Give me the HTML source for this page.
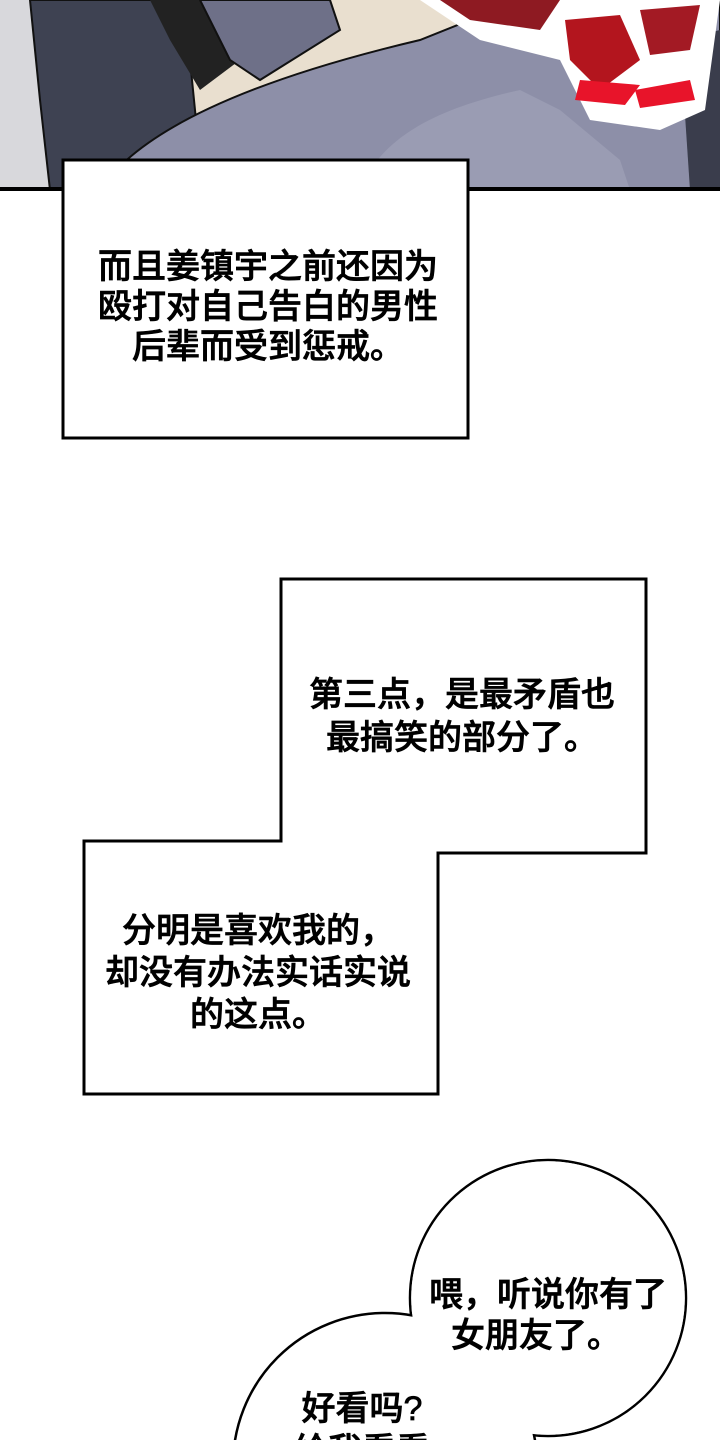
<!DOCTYPE html>
<html><head><meta charset="utf-8"><style>
html,body{margin:0;padding:0;background:#fff;width:720px;height:1440px;overflow:hidden;}
svg{display:block;}
text{font-family:"Liberation Sans","Noto Sans CJK SC",sans-serif;font-size:34px;font-weight:500;fill:#000;stroke:#000;stroke-width:0.7px;}
</style></head><body>
<svg width="720" height="1440" viewBox="0 0 720 1440" xmlns="http://www.w3.org/2000/svg">
<!-- top panel -->
<rect x="0" y="0" width="720" height="190" fill="#e9dfcf"/>
<rect x="0" y="0" width="60" height="190" fill="#d8d8dc"/>
<path d="M30 0 L180 0 L190 60 L200 160 L140 190 L50 190 L40 100 Z" fill="#3e4252" stroke="#111" stroke-width="2"/>
<path d="M150 0 L260 0 L240 60 L200 90 L170 40 Z" fill="#222"/>
<path d="M200 0 L330 0 L340 30 L260 80 L230 60 Z" fill="#6e7088" stroke="#111" stroke-width="2"/>
<path d="M100 190 C140 130 250 80 420 40 L520 0 L720 0 L720 190 Z" fill="#8d8fa8" stroke="#111" stroke-width="2"/>
<path d="M360 190 C380 140 430 110 520 90 L560 110 L620 160 L630 190 Z" fill="#9a9cb3"/>
<path d="M680 40 L720 30 L720 190 L690 190 Z" fill="#3a3d4c"/>
<path d="M420 0 L720 0 L705 110 L660 130 L590 120 L560 60 L480 40 Z" fill="#fff"/>
<path d="M440 0 L560 0 L540 30 L470 20 Z" fill="#8e1a22"/>
<path d="M565 20 L620 15 L640 60 L600 90 L570 60 Z" fill="#b3151e"/>
<path d="M640 10 L700 5 L690 50 L650 55 Z" fill="#a31a24"/>
<path d="M580 80 L640 85 L625 105 L575 100 Z" fill="#e8142a"/>
<path d="M635 90 L690 80 L695 100 L640 108 Z" fill="#e8142a"/>
<rect x="0" y="187" width="720" height="4" fill="#000"/>
<!-- box 1 -->
<rect x="63" y="160" width="405" height="278" fill="#fff" stroke="#000" stroke-width="3"/>
<text x="268" y="278" text-anchor="middle">而且姜镇宇之前还因为</text>
<text x="268" y="318" text-anchor="middle">殴打对自己告白的男性</text>
<text x="268" y="358" text-anchor="middle">后辈而受到惩戒。</text>
<!-- box 2+3 union -->
<path d="M281 579 L646 579 L646 853 L438 853 L438 1094 L84 1094 L84 841 L281 841 Z" fill="#fff" stroke="#000" stroke-width="3"/>
<text x="462" y="706" text-anchor="middle">第三点，是最矛盾也</text>
<text x="462" y="749" text-anchor="middle">最搞笑的部分了。</text>
<text x="258" y="942" text-anchor="middle">分明是喜欢我的，</text>
<text x="258" y="984" text-anchor="middle">却没有办法实话实说</text>
<text x="258" y="1026" text-anchor="middle">的这点。</text>
<!-- bubbles -->
<circle cx="548" cy="1298" r="138" fill="#fff" stroke="#000" stroke-width="2.5"/>
<circle cx="385" cy="1465" r="152" fill="#fff" stroke="#000" stroke-width="2.5"/>
<circle cx="548" cy="1298" r="136.8" fill="#fff"/>
<text x="548" y="1306" text-anchor="middle">喂，听说你有了</text>
<text x="536" y="1347" text-anchor="middle">女朋友了。</text>
<text x="362" y="1420" text-anchor="middle">好看吗?</text>
<text x="362" y="1462" text-anchor="middle">给我看看</text>
</svg>
</body></html>
